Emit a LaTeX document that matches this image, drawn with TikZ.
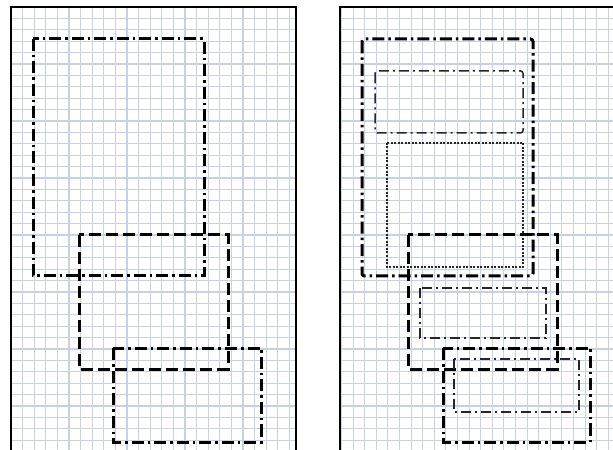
\documentclass[tikz,border=0pt]{standalone}
\begin{document}
\begin{tikzpicture}[x=1bp,y=-1bp,
  gridc/.style={draw={rgb,255:red,200;green,208;blue,228},line width=1.1bp},
  frame/.style={draw=black,line width=2.2bp},
  thickdd/.style={draw=black,line width=3bp,dash pattern=on 12bp off 4bp on 2.5bp off 4bp},
  thickdash/.style={draw=black,line width=3bp,dash pattern=on 12bp off 5bp},
  thindd/.style={draw=black!85,line width=1.5bp,dash pattern=on 10bp off 4bp on 2bp off 4bp},
  thindot/.style={draw=black!85,line width=1.3bp,dash pattern=on 2bp off 1.5bp},
  rc/.style={rounded corners=2.5bp}]
\useasboundingbox (0,0) rectangle (613,450);
\fill[white] (0,0) rectangle (613,450);
% left panel grid
\begin{scope}
\clip (11,7) rectangle (296,450);
\foreach \i in {0,...,25} {\draw[gridc] (11+\i*11.6,7) -- (11+\i*11.6,450);}
\foreach \j in {0,...,39} {\draw[gridc] (11,7+\j*11.4) -- (296,7+\j*11.4);}
\end{scope}
\draw[frame] (11,452) -- (11,7) -- (296,7) -- (296,452);
% right panel grid
\begin{scope}
\clip (340,7) rectangle (615,450);
\foreach \i in {0,...,24} {\draw[gridc] (341.5+\i*11.6,7) -- (341.5+\i*11.6,450);}
\foreach \j in {0,...,39} {\draw[gridc] (340,7+\j*11.4) -- (615,7+\j*11.4);}
\end{scope}
\draw[frame] (340,452) -- (340,7) -- (615,7);
% left panel rectangles
\draw[thickdd] (33,39) rectangle (204,276);
\draw[thickdash] (79,235) rectangle (228,369);
\draw[thickdd] (113,348) rectangle (261,442);
% right panel rectangles
\draw[thickdd,rc] (362,39) rectangle (533,276);
\draw[thindd,rc] (375,71) rectangle (523,133);
\draw[thindot] (387,143) rectangle (523,267);
\draw[thickdash] (408,235) rectangle (557,369);
\draw[thindd] (420,288) rectangle (546,338);
\draw[thickdd] (443,348) rectangle (590,442);
\draw[thindd] (454,359) rectangle (579,412);
\end{tikzpicture}
\end{document}
